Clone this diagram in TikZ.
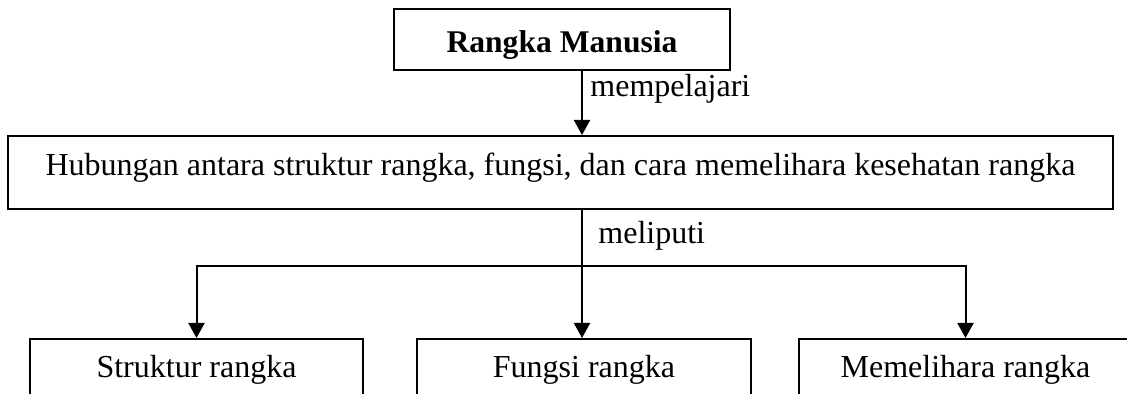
\documentclass[tikz,border=0pt]{standalone}
\usepackage{fontspec}
\setmainfont{Liberation Serif}
\usetikzlibrary{arrows.meta}
\tikzset{
  box/.style={draw, line width=1pt, rectangle, inner sep=0pt, font=\fontsize{16}{19}\selectfont, align=center},
  arr/.style={line width=1pt, -{Triangle[width=8pt,length=7.5pt]}},
  lbl/.style={anchor=base west, inner sep=0pt, font=\fontsize{16}{19}\selectfont},
}
\begin{document}
\begin{tikzpicture}[x=0.5pt,y=-0.5pt]
\clip (0,0) rectangle (1127,394);
\fill[white] (0,0) rectangle (1127,394);
\node[box, anchor=north, minimum width=168pt, text height=22pt, text depth=8.5pt, font=\fontsize{15.8}{19}\selectfont\bfseries] (top) at (562,8) {Rangka Manusia};
\node[box, anchor=north, minimum width=552.5pt, text height=20pt, text depth=16.5pt] (mid) at (560.5,135) {Hubungan antara struktur rangka, fungsi, dan cara memelihara kesehatan rangka};
\node[box, anchor=north, minimum width=166.5pt, text height=19.5pt, text depth=30pt] (b1) at (196.5,338) {Struktur rangka};
\node[box, anchor=north, minimum width=167pt, text height=19.5pt, text depth=30pt] (b2) at (584,338) {Fungsi rangka};
\node[box, anchor=north, minimum width=166.5pt, text height=19.5pt, text depth=30pt] (b3) at (965.5,338) {Memelihara rangka};
\coordinate (spine) at (582,0);
\coordinate (bar) at (0,266);
\draw[arr] (top.south -| spine) -- (mid.north -| spine);
\draw[arr] (mid.south -| spine) -- (b2.north -| spine);
\draw[arr] (bar -| spine) -| (b1.north);
\draw[arr] (bar -| spine) -| (b3.north);
\node[lbl] (l1) at (590,97) {mempelajari};
\node[lbl] (l2) at (598,244) {meliputi};
\end{tikzpicture}
\end{document}
